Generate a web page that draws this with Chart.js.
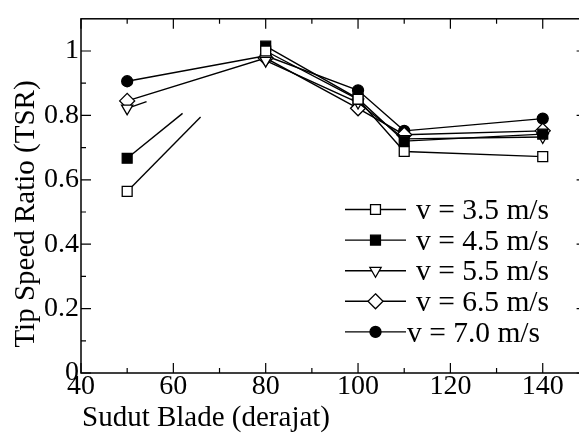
<!DOCTYPE html>
<html>
<head>
<meta charset="utf-8">
<script src="https://cdn.jsdelivr.net/npm/chart.js@4/dist/chart.umd.min.js"></script>
<style>
html,body{margin:0;padding:0;background:#fff;overflow:hidden;width:579px;height:434px;}
#wrap{position:absolute;left:0;top:0;width:600px;height:434px;}
</style>
</head>
<body>
<div id="wrap"><canvas id="c" width="600" height="434"></canvas></div>
<script>
// ---- data ----
const angles = [50, 80, 100, 110, 140];
const v35 = [0.564, 1.000, 0.850, 0.688, 0.672];
const v45 = [0.667, 1.015, 0.852, 0.720, 0.742];
const v55 = [0.822, 0.970, 0.840, 0.727, 0.733];
const v65 = [0.845, 0.978, 0.822, 0.740, 0.752];
const v70 = [0.906, 0.985, 0.878, 0.752, 0.790];
const seriesLabels = ['v = 3.5 m/s', 'v = 4.5 m/s', 'v = 5.5 m/s', 'v = 6.5 m/s', 'v = 7.0 m/s'];
const xMajorTicks = [40, 60, 80, 100, 120, 140];
const xMinorTicks = [50, 70, 90, 110, 130];
const yMajorTicks = [0, 0.2, 0.4, 0.6, 0.8, 1.0];
const yMinorTicks = [0.1, 0.3, 0.5, 0.7, 0.9];
const xTickLabels = ['40', '60', '80', '100', '120', '140'];
const yTickLabels = ['0', '0.2', '0.4', '0.6', '0.8', '1'];
const xTitle = 'Sudut Blade (derajat)';
const yTitle = 'Tip Speed Ratio (TSR)';

// ---- styles ----
const FAMILY = "'Liberation Serif', 'Times New Roman', serif";
Chart.defaults.font.family = FAMILY;
Chart.defaults.font.size = 28;
Chart.defaults.color = '#000';
const styles = [
  {pointStyle: 'rect', radius: 7, fill: '#fff', rotation: 0, partial: 0.53},
  {pointStyle: 'rect', radius: 7, fill: '#000', rotation: 0, partial: 0.40},
  {pointStyle: 'triangle', radius: 6.5, fill: '#fff', rotation: 180, partial: 0.14},
  {pointStyle: 'rectRot', radius: 7.5, fill: '#fff', rotation: 0, partial: 1},
  {pointStyle: 'circle', radius: 5.5, fill: '#000', rotation: 0, partial: 1}
];
const allSeries = [v35, v45, v55, v65, v70];

function makeDataset(i) {
  const s = styles[i];
  const frac = s.partial;
  return {
    label: seriesLabels[i],
    data: angles.map((a, k) => ({x: a, y: allSeries[i][k]})),
    borderColor: '#000',
    borderWidth: 1.4,
    pointStyle: s.pointStyle,
    pointRadius: s.radius,
    pointRotation: s.rotation,
    pointBackgroundColor: s.fill,
    pointBorderColor: '#000',
    pointBorderWidth: 1.3,
    fill: false,
    tension: 0,
    segment: {
      borderDash: ctx => {
        if (frac < 1 && ctx.p0DataIndex === 0) {
          const len = Math.hypot(ctx.p1.x - ctx.p0.x, ctx.p1.y - ctx.p0.y);
          return [len * frac, len * 3];
        }
        return undefined;
      }
    }
  };
}

function marker(ctx, style, x, y) {
  const r = style.radius;
  ctx.save();
  ctx.fillStyle = style.fill;
  ctx.strokeStyle = '#000';
  ctx.lineWidth = 1.3;
  ctx.beginPath();
  if (style.pointStyle === 'rect') {
    const h = r * Math.SQRT1_2;
    ctx.rect(x - h, y - h, 2 * h, 2 * h);
  } else if (style.pointStyle === 'rectRot') {
    ctx.moveTo(x, y - r); ctx.lineTo(x + r, y); ctx.lineTo(x, y + r); ctx.lineTo(x - r, y); ctx.closePath();
  } else if (style.pointStyle === 'triangle') {
    ctx.moveTo(x, y + r);
    ctx.lineTo(x - r * Math.sin(Math.PI / 3), y - r * 0.5);
    ctx.lineTo(x + r * Math.sin(Math.PI / 3), y - r * 0.5);
    ctx.closePath();
  } else {
    ctx.arc(x, y, r, 0, Math.PI * 2);
  }
  ctx.fill();
  ctx.stroke();
  ctx.restore();
}

const framePlugin = {
  id: 'frame',
  afterDraw(chart) {
    const {ctx, chartArea: a} = chart;
    const xs = chart.scales.x, ys = chart.scales.y;
    ctx.save();
    ctx.strokeStyle = '#000';
    ctx.lineWidth = 1.5;
    ctx.strokeRect(a.left, a.top, a.right - a.left, a.bottom - a.top);
    ctx.lineWidth = 1.2;
    ctx.beginPath();
    const tick = (vals, len) => {
      vals.forEach(v => {
        const px = xs.getPixelForValue(v);
        ctx.moveTo(px, a.bottom); ctx.lineTo(px, a.bottom - len);
        ctx.moveTo(px, a.top); ctx.lineTo(px, a.top + len);
      });
    };
    const ytick = (vals, len) => {
      vals.forEach(v => {
        const py = ys.getPixelForValue(v);
        ctx.moveTo(a.left, py); ctx.lineTo(a.left + len, py);
        ctx.moveTo(a.right, py); ctx.lineTo(a.right - len, py);
      });
    };
    tick(xMajorTicks, 10); tick(xMinorTicks, 5);
    ytick(yMajorTicks, 10); ytick(yMinorTicks, 5);
    ctx.stroke();

    // axis titles
    ctx.fillStyle = '#000';
    ctx.font = '29px ' + FAMILY;
    ctx.textAlign = 'left';
    ctx.textBaseline = 'alphabetic';
    ctx.fillText(xTitle, a.left + 1, 426);
    ctx.save();
    ctx.translate(34, 214);
    ctx.rotate(-Math.PI / 2);
    ctx.textAlign = 'center';
    ctx.fillText(yTitle, 0, 0);
    ctx.restore();

    // legend
    const lx0 = 345, lx1 = 406, tx = 416;
    ctx.font = '29.5px ' + FAMILY;
    ctx.textBaseline = 'middle';
    ctx.textAlign = 'left';
    chart.data.datasets.forEach((ds, i) => {
      const y = 209.5 + i * 30.6;
      ctx.lineWidth = 1.4;
      ctx.beginPath();
      ctx.moveTo(lx0, y); ctx.lineTo(lx1, y);
      ctx.stroke();
      marker(ctx, styles[i], (lx0 + lx1) / 2, y);
      ctx.fillStyle = '#000';
      ctx.fillText(ds.label, i === 4 ? tx - 9 : tx, y + 2);
    });
    ctx.restore();
  }
};

new Chart(document.getElementById('c'), {
  type: 'line',
  data: {datasets: [0, 1, 2, 3, 4].map(makeDataset)},
  options: {
    responsive: false,
    animation: false,
    devicePixelRatio: 1,
    layout: {padding: {left: 0, top: 10, right: 13.4, bottom: 0}},
    plugins: {legend: {display: false}, tooltip: {enabled: false}},
    scales: {
      x: {
        type: 'linear',
        min: 40, max: 149.5,
        afterFit: s => { s.height = 61; },
        afterBuildTicks: s => { s.ticks = xMajorTicks.map(v => ({value: v})); },
        grid: {display: false, drawTicks: false},
        border: {display: false},
        ticks: {
          padding: -3, color: '#000', font: {family: FAMILY, size: 28},
          maxRotation: 0, autoSkip: false,
          callback: (v, idx) => xTickLabels[idx]
        }
      },
      y: {
        type: 'linear',
        min: 0, max: 1.1,
        afterFit: s => { s.width = 81; },
        afterBuildTicks: s => { s.ticks = yMajorTicks.map(v => ({value: v})); },
        grid: {display: false, drawTicks: false},
        border: {display: false},
        ticks: {
          padding: 2, color: '#000', font: {family: FAMILY, size: 28},
          callback: (v, idx) => yTickLabels[idx]
        }
      }
    }
  },
  plugins: [framePlugin]
});
</script>
</body>
</html>
